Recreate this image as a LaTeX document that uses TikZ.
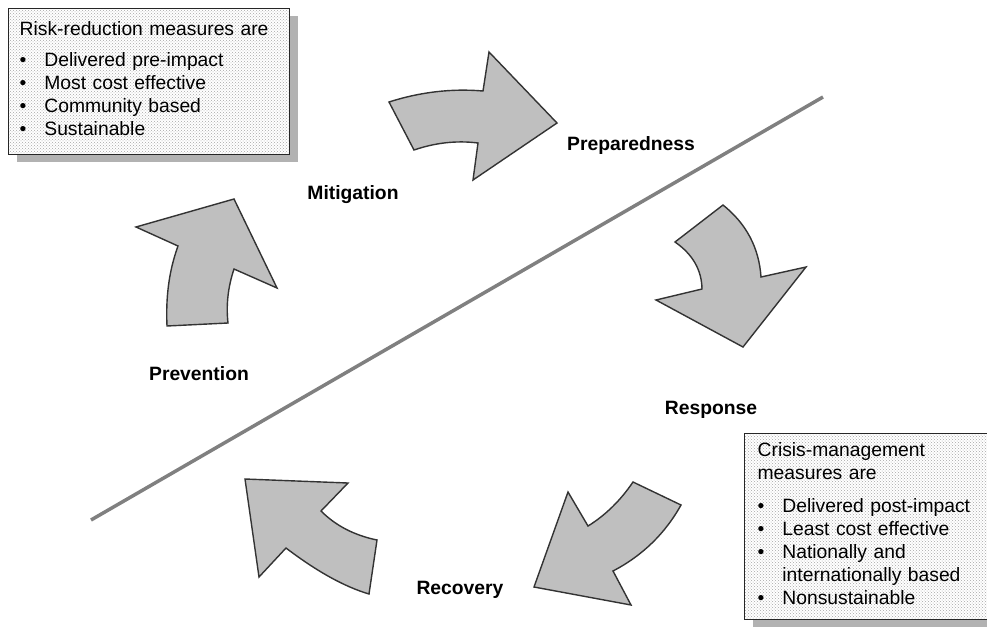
\documentclass[tikz,border=0pt]{standalone}
\usepackage{fontspec}
\setmainfont{Liberation Sans}
\usepackage{tikz}
\usetikzlibrary{patterns, shadows}

\begin{document}
\begin{tikzpicture}[
    x=1pt, y=-1pt,
    % Styles
    phase/.style={font=\bfseries\fontsize{19.3}{23}\selectfont, anchor=base},
    notebox/.style={rectangle, draw=black!85, line width=1.3pt,
        drop shadow={shadow xshift=8pt, shadow yshift=-7pt, fill=black!60},
        preaction={fill=white}, pattern=crosshatch dots, pattern color=black!35,
        anchor=north west, align=left, font=\fontsize{19.3}{23}\selectfont},
    cyclearrow/.style={draw=black!80, fill=black!25, line width=1.4pt, line join=miter},
    divider/.style={draw=black!50, line width=3.5pt}
]
\useasboundingbox (0,0) rectangle (987,627);

% Divider between the two halves
\coordinate (divA) at (91,520);
\coordinate (divB) at (823,97);
\draw[divider] (divA) -- (divB);

% Risk-reduction box
\node[notebox, inner xsep=11pt, text width=259pt, minimum height=146pt] (risk) at (8,8) {%
    Risk-reduction measures are\\[8pt]
    \begin{tabular}[t]{@{}l@{\hspace{18pt}}l@{}}
    \textbullet & Delivered pre-impact\\
    \textbullet & Most cost effective\\
    \textbullet & Community based\\
    \textbullet & Sustainable
    \end{tabular}};

% Crisis-management box
\node[notebox, inner xsep=13pt, text width=220pt, minimum height=186pt] (crisis) at (744,433) {%
    Crisis-management\\
    measures are\\[10pt]
    \begin{tabular}[t]{@{}l@{\hspace{18pt}}l@{}}
    \textbullet & Delivered post-impact\\
    \textbullet & Least cost effective\\
    \textbullet & Nationally and\\
                & internationally based\\
    \textbullet & Nonsustainable
    \end{tabular}};

% Cycle arrows
\draw[cyclearrow] (389,102) .. controls (420.3,92) and (451.7,88.3) .. (483,91)
    -- (489,52) -- (557,123) -- (473,180) -- (478,143)
    .. controls (456.7,140.3) and (435.3,142.7) .. (414,150) -- cycle;
\draw[cyclearrow] (723,205) .. controls (746.3,223.7) and (759,247.7) .. (761,277)
    -- (806,267) -- (743,347) -- (656,300) -- (702,289)
    .. controls (701.7,270) and (692.7,254.3) .. (675,242) -- cycle;
\draw[cyclearrow] (681,505) .. controls (665,533.7) and (642.3,555.7) .. (613,571)
    -- (631,605) -- (534,587) -- (568,492) -- (588,526)
    .. controls (605.3,515.3) and (620.3,500.7) .. (633,482) -- cycle;
\draw[cyclearrow] (377,540) .. controls (354.3,535.3) and (335.7,525.7) .. (321,511)
    -- (348,483) -- (245,479) -- (259,577) -- (286,548)
    .. controls (316.7,571.3) and (344.3,586.7) .. (369,594) -- cycle;
\draw[cyclearrow] (228,323) .. controls (226,305) and (228,287) .. (234,269)
    -- (277,288) -- (234,199) -- (136,227) -- (178,246)
    .. controls (168.3,272.7) and (165.8,299.3) .. (167,326) -- cycle;

% Phase labels
\node[phase] (mitigation) at (353,199) {Mitigation};
\node[phase] (preparedness) at (631,150) {Preparedness};
\node[phase] (response) at (711,414) {Response};
\node[phase] (recovery) at (460,594) {Recovery};
\node[phase] (prevention) at (199,380) {Prevention};

\end{tikzpicture}
\end{document}
